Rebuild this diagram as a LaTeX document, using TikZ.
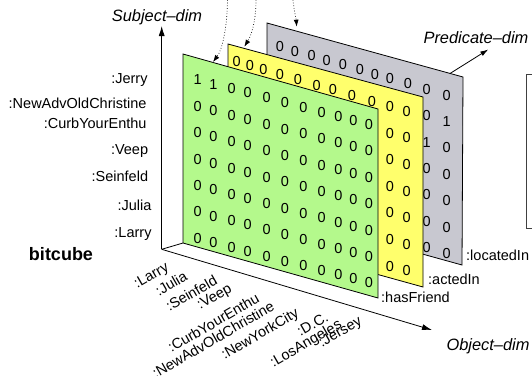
\documentclass[tikz,border=0pt]{standalone}
\usepackage{fontspec}
\setmainfont{Liberation Sans}
\usetikzlibrary{arrows.meta}
\definecolor{friendgreen}{HTML}{B4F98C}
\definecolor{actedyellow}{HTML}{FFFF6C}
\definecolor{locgray}{HTML}{C8C8D0}
\newcommand{\bitfont}{\fontsize{14.5}{16}\selectfont}
\newcommand{\dimfont}{\fontsize{16.4}{18}\selectfont\itshape}
\tikzset{
  plane/.style={draw=black,line width=0.8pt,line join=miter},
  bit/.style={font=\bitfont,inner sep=0pt},
  lbl/.style={font=\bitfont,inner sep=0pt},
  dimlbl/.style={font=\dimfont,inner sep=0pt,anchor=base},
  axisline/.style={draw=black,line width=0.8pt},
  axisarrow/.style={axisline,-{Latex[length=10pt,width=6pt]}},
  hint/.style={black,dotted,line width=0.7pt,-{Latex[length=7pt,width=5pt]}},
  objlbl/.style={lbl,rotate=30,anchor=east},
}
\begin{document}
\begin{tikzpicture}[x=1pt,y=-1pt]
\useasboundingbox (0,0) rectangle (532,375);

% axes
\coordinate (origin) at (161.7,249.3);
\coordinate (subjtip) at (161.7,26);
\coordinate (objtip) at (432,330);
\draw[axisarrow] (origin) -- (subjtip);
\draw[axisarrow] (origin) -- (objtip);

% plane corners
\coordinate (gTL) at (183,54);  \coordinate (gTR) at (378,109);
\coordinate (gBR) at (378,298); \coordinate (gBL) at (183,243);
\coordinate (yTL) at (228,44);  \coordinate (yTR) at (423,97);
\coordinate (yBR) at (423,287); \coordinate (yBL) at (228,233);
\coordinate (lTL) at (267,23);  \coordinate (lTR) at (463,77);
\coordinate (lBR) at (462,265); \coordinate (lBL) at (267,211);

\draw[axisline] (origin) -- (gBL);

% :locatedIn slice (top row and the two columns left uncovered)
\draw[plane,fill=locgray] (lTL) -- (lTR) -- (lBR) -- (lBL) -- cycle;
\foreach \c/\x in {0/280,1/295,2/311.7,3/326.7,4/343,5/360,6/375,7/390,8/408,9/426.7,10/446.7}{
  \node[bit] (l-0-\c) at (\x,{46.7+0.29*(\x-280)}) {0};
}
\foreach \c/\x in {9/426.7,10/446.7}{
  \foreach \r in {1,...,6}{
    \def\bitv{0}
    \ifnum\c=9 \ifnum\r=2 \def\bitv{1}\fi\fi
    \ifnum\c=10 \ifnum\r=1 \def\bitv{1}\fi\fi
    \node[bit] (l-\r-\c) at (\x,{46.7+26.4*\r+0.29*(\x-280)}) {\bitv};
  }
}

% :actedIn slice (top row and the two columns left uncovered)
\draw[plane,fill=actedyellow] (yTL) -- (yTR) -- (yBR) -- (yBL) -- cycle;
\foreach \c/\x in {0/236.7,1/250,2/263.3,3/280,4/298,5/316.7,6/333,7/352,8/372,9/390,10/406.7}{
  \node[bit] (y-0-\c) at (\x,{62+0.29*(\x-236.7)}) {0};
}
\foreach \c/\x in {9/390,10/406.7}{
  \foreach \r in {1,...,6}{
    \node[bit] (y-\r-\c) at (\x,{62+26.6*\r+0.29*(\x-236.7)}) {0};
  }
}

% :hasFriend slice
\draw[plane,fill=friendgreen] (gTL) -- (gTR) -- (gBR) -- (gBL) -- cycle;
\foreach \c/\x in {0/197.7,1/213.3,2/231.7,3/247.7,4/266.7,5/285,6/303.3,7/321.7,8/338.3,9/353.3,10/369}{
  \foreach \r in {0,...,6}{
    \def\bitv{0}
    \ifnum\r=0 \ifnum\c<2 \def\bitv{1}\fi\fi
    \node[bit] (g-\r-\c) at (\x,{80+26.4*\r+0.26*(\x-197.7)}) {\bitv};
  }
}

% slice names
\node[lbl,anchor=base west] (hasfriend) at (381,302) {:hasFriend};
\node[lbl,anchor=base west] (actedin) at (428,284.5) {:actedIn};
\node[lbl,anchor=base west] (locatedin) at (466,260) {:locatedIn};

% subject labels
\node[lbl,anchor=base east] (s1) at (147.7,83) {:Jerry};
\node[lbl,anchor=base east] (s2) at (146.7,108) {:NewAdvOldChristine};
\node[lbl,anchor=base east] (s3) at (146.7,128) {:CurbYourEnthu};
\node[lbl,anchor=base east] (s4) at (148.3,154.5) {:Veep};
\node[lbl,anchor=base east] (s5) at (148.3,181) {:Seinfeld};
\node[lbl,anchor=base east] (s6) at (151.7,210.5) {:Julia};
\node[lbl,anchor=base east] (s7) at (151.7,237) {:Larry};
\node[font=\fontsize{18}{20}\selectfont\bfseries,inner sep=0pt,anchor=base] (cube) at (61,260.5) {bitcube};

% object labels
\node[objlbl] (o1) at (168,267) {:Larry};
\node[objlbl] (o2) at (186,275) {:Julia};
\node[objlbl] (o3) at (216,279) {:Seinfeld};
\node[objlbl] (o4) at (231,288) {:Veep};
\node[objlbl] (o5) at (258,297) {:CurbYourEnthu};
\node[objlbl] (o6) at (273,305) {:NewAdvOldChristine};
\node[objlbl] (o7) at (298,313) {:NewYorkCity};
\node[objlbl] (o8) at (327,316) {:D.C.};
\node[objlbl] (o9) at (341,324) {:LosAngeles};
\node[objlbl] (o10) at (361,321) {:Jersey};

% dimension names
\node[dimlbl] (subjdim) at (157,21.5) {Subject--dim};
\node[dimlbl] (preddim) at (476,43.5) {Predicate--dim};
\node[dimlbl] (objdim) at (488,350) {Object--dim};
\coordinate (predfoot) at (450,73.5);
\coordinate (predtip) at (488.3,49.5);
\draw[axisarrow,-{Latex[length=8pt,width=5pt]}] (predfoot) -- (predtip);

% pointers onto the slices
\coordinate (h1) at (227.5,0);   \coordinate (t1) at (213,62);
\coordinate (h2) at (256,0);     \coordinate (t2) at (244.3,46.7);
\coordinate (h3) at (293,0);     \coordinate (t3) at (296.7,26.7);
\draw[hint] (h1) .. controls (227,30) and (222,50) .. (t1);
\draw[hint] (h2) .. controls (256,22) and (251,36) .. (t2);
\draw[hint] (h3) .. controls (294,10) and (296,18) .. (t3);

% panel at the right edge
\draw[draw=black!75,line width=0.8pt] (534,74.3) -- (526,74.3) -- (526,228.3) -- (534,228.3);
\end{tikzpicture}
\end{document}
